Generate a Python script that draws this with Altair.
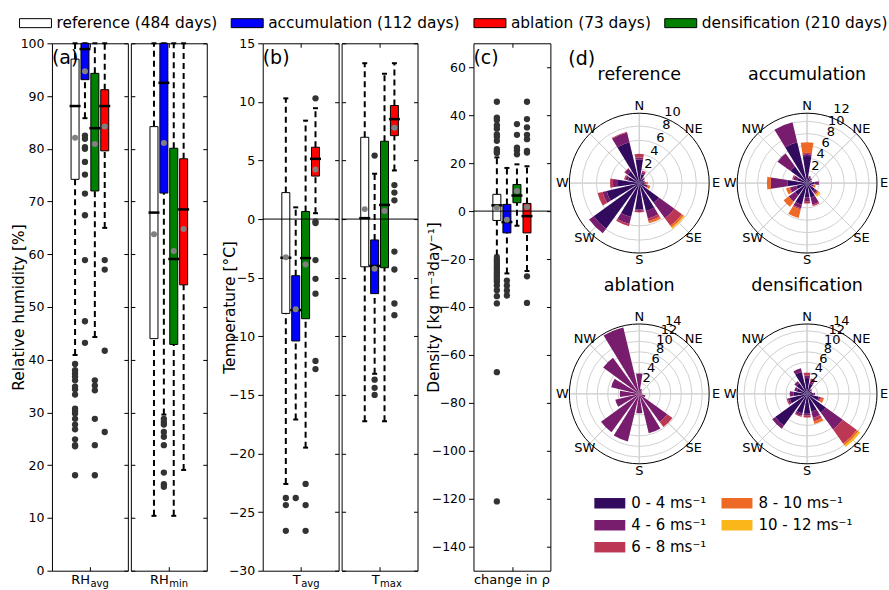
import altair as alt
import numpy as np
import pandas as pd

FONT = "DejaVu Sans"

# ---------------- season categories and box colours ----------------
seasons = ["reference (484 days)", "accumulation (112 days)",
           "ablation (73 days)", "densification (210 days)"]
season_colors = ["#ffffff", "#0000ff", "#ff0000", "#008000"]
# boxes run left to right in this order inside every panel
box_seasons = ["reference (484 days)", "accumulation (112 days)",
               "densification (210 days)", "ablation (73 days)"]
box_pos = [-22.5, -7.5, 7.5, 22.5]

# ---------------- (a) relative humidity [%] ----------------
rhavg_lo = [40.9, 85.8, 44.3, 65.0]
rhavg_q1 = [74.2, 93.1, 72.0, 79.6]
rhavg_med = [88.1, 98.9, 83.9, 88.1]
rhavg_q3 = [97.0, 100.0, 94.3, 91.2]
rhavg_hi = [100.0, 100.0, 100.0, 100.0]
rhavg_mean = [82.1, 94.7, 80.9, 84.2]
rhavg_out = [
    [39.2, 38.0, 37.4, 36.8, 36.1, 34.9, 34.4, 33.4, 30.7, 30.3, 29.8,
     28.8, 27.7, 26.8, 24.9, 23.8, 23.6, 18.1],
    [82.5, 81.9, 80.3, 80.0, 77.5, 75.1, 71.5, 67.4, 58.9, 47.3, 43.2],
    [36.1, 35.1, 34.2, 28.8, 23.8, 18.1],
    [58.9, 57.1, 41.7, 26.3],
]

rhmin_lo = [10.4, 29.6, 10.4, 19.1]
rhmin_q1 = [44.0, 71.6, 42.9, 54.2]
rhmin_med = [67.9, 92.5, 59.1, 68.5]
rhmin_q3 = [84.2, 100.0, 80.1, 78.1]
rhmin_hi = [100.0, 100.0, 100.0, 100.0]
rhmin_mean = [63.8, 81.1, 60.6, 64.8]
rhmin_out = [
    [],
    [28.8, 28.2, 27.7, 26.3, 25.4, 23.8, 18.6, 16.4, 15.9],
    [],
    [],
]

# ---------------- (b) air temperature [deg C] ----------------
tavg_lo = [-22.6, -17.1, -19.5, 0.5]
tavg_q1 = [-8.05, -10.4, -8.5, 3.67]
tavg_med = [-3.3, -7.76, -3.33, 5.14]
tavg_q3 = [2.26, -4.83, 0.65, 6.13]
tavg_hi = [10.3, 1.0, 8.4, 9.46]
tavg_mean = [-3.25, -7.7, -3.87, 4.24]
tavg_out = [
    [-23.8, -24.4, -26.6],
    [-23.8],
    [-22.6, -24.4, -26.6],
    [10.3, -0.2, -0.34, -3.5, -5.1, -6.36, -12.1, -12.8],
]

tmax_lo = [-17.25, -13.2, -17.25, 4.15]
tmax_q1 = [-4.07, -6.36, -4.15, 7.12]
tmax_med = [0.08, -4.0, 1.21, 8.53]
tmax_q3 = [6.98, -1.78, 6.64, 9.69]
tmax_hi = [13.3, 3.87, 12.4, 13.3]
tmax_mean = [0.85, -4.24, 0.68, 7.8]
tmax_out = [
    [],
    [5.42, -13.7, -14.4, -15.0],
    [],
    [2.9, 2.26, 1.6, -2.77, -4.3, -7.2, -8.2],
]

# ---------------- (c) daily change in snow density ----------------
rho_lo = [-18.5, -26.0, -6.1, -25.0]
rho_q1 = [-3.9, -9.1, 3.5, -9.1]
rho_med = [2.4, -4.6, 6.5, -2.1]
rho_q3 = [7.0, 2.8, 11.1, 3.2]
rho_hi = [22.4, 18.0, 19.5, 18.7]
rho_mean = [1.4, -3.6, 8.4, 1.7]
rho_out = [
    [45.6, 39.0, 38.0, 35.8, 34.4, 32.0, 31.0, 29.3, 25.8, 24.9, 24.2,
     -19.5, -20.5, -21.5, -22.5, -23.5, -24.5, -25.5, -26.5, -27.5, -28.5,
     -29.5, -31.0, -33.0, -35.5, -38.5, -67.2, -121.1],
    [-29.0, -31.0, -33.1, -35.2],
    [36.3, 31.8, 26.5, 25.4, 23.7],
    [45.6, 38.4, 34.9, 31.8, 30.0, 25.1, 24.4, -27.2, -38.3],
]

# ---------------- (d) wind roses: frequency [%] per direction and speed ----------------
directions = ["N", "NNE", "NE", "ENE", "E", "ESE", "SE", "SSE",
              "S", "SSW", "SW", "WSW", "W", "WNW", "NW", "NNW"]
dir_angles = [i * 22.5 for i in range(16)]
speed_bins = ["0 - 4 ms⁻¹", "4 - 6 ms⁻¹", "6 - 8 ms⁻¹", "8 - 10 ms⁻¹", "10 - 12 ms⁻¹"]
speed_colors = ["#320a5e", "#781c6d", "#bc3754", "#ed6925", "#fbb61a"]

#          N    NNE  NE   ENE  E    ESE  SE   SSE  S    SSW  SW   WSW  W    WNW  NW   NNW
ref_wind = [
    [3.3, 1.3, 0.7, 0.6, 0.7, 1.0, 3.4, 4.0, 3.7, 4.9, 7.9, 4.7, 3.0, 1.6, 2.0, 5.9],
    [0.3, 0.3, 0.2, 0.2, 0.2, 0.2, 2.7, 1.1, 0.2, 1.0, 0.8, 0.6, 0.7, 0.4, 0.5, 1.4],
    [0.5, 0.2, 0.1, 0.0, 0.1, 0.1, 1.3, 0.4, 0.2, 0.3, 0.0, 0.7, 0.4, 0.2, 0.1, 0.1],
    [0.0, 0.0, 0.0, 0.0, 0.2, 0.3, 0.3, 0.3, 0.0, 0.0, 0.0, 0.0, 0.0, 0.0, 0.0, 0.0],
    [0.0, 0.0, 0.0, 0.0, 0.0, 0.0, 0.2, 0.0, 0.0, 0.0, 0.0, 0.0, 0.0, 0.0, 0.0, 0.0],
]
acc_wind = [
    [4.4, 0.9, 0.7, 0.6, 1.2, 0.8, 1.6, 2.4, 2.3, 3.6, 2.4, 1.8, 3.2, 1.6, 3.3, 6.8],
    [0.3, 0.3, 0.3, 0.2, 0.7, 0.3, 0.4, 1.2, 0.7, 0.6, 1.3, 1.0, 2.7, 0.7, 2.6, 3.3],
    [0.2, 0.0, 0.0, 0.0, 0.0, 0.1, 0.2, 0.2, 0.3, 0.2, 0.0, 0.2, 0.0, 0.2, 0.0, 0.0],
    [1.7, 0.0, 0.0, 0.0, 0.0, 0.2, 0.2, 0.0, 0.0, 1.4, 1.0, 0.5, 0.6, 0.0, 0.0, 0.0],
    [0.0, 0.0, 0.0, 0.0, 0.0, 0.1, 0.3, 0.0, 0.0, 0.0, 0.0, 0.0, 0.0, 0.0, 0.0, 0.0],
]
abl_wind = [
    [0.0] * 16,
    [3.9, 1.0, 0.6, 0.6, 0.4, 1.2, 6.6, 7.7, 3.7, 9.3, 9.0, 4.7, 3.7, 5.5, 8.5, 13.0],
    [0.0, 0.0, 0.0, 0.0, 0.0, 0.0, 1.2, 0.0, 0.0, 0.0, 0.0, 0.0, 0.0, 0.0, 0.0, 0.0],
    [0.0, 0.0, 0.0, 0.0, 0.2, 0.0, 0.0, 0.0, 0.0, 0.0, 0.0, 0.0, 0.0, 0.0, 0.0, 0.0],
    [0.0] * 16,
]
den_wind = [
    [3.0, 2.0, 0.9, 0.8, 1.2, 2.3, 4.4, 3.5, 3.8, 3.8, 7.5, 3.4, 2.6, 2.0, 2.5, 4.3],
    [0.5, 0.4, 0.2, 0.2, 0.3, 0.3, 4.0, 1.2, 0.3, 0.5, 0.7, 0.4, 0.7, 0.5, 0.5, 0.7],
    [0.5, 0.6, 0.1, 0.0, 0.0, 0.2, 3.3, 0.7, 0.4, 0.2, 0.0, 0.2, 0.0, 0.0, 0.0, 0.0],
    [0.0, 0.0, 0.0, 0.0, 0.0, 0.5, 0.4, 0.5, 0.0, 0.0, 0.0, 0.0, 0.0, 0.0, 0.0, 0.0],
    [0.0, 0.0, 0.0, 0.0, 0.0, 0.0, 0.4, 0.0, 0.0, 0.0, 0.0, 0.0, 0.0, 0.0, 0.0, 0.0],
]

# outer circle radius [%] and radial tick labels of each rose
ref_rmax, ref_rticks = 9.8, [2, 4, 6, 8, 10]
acc_rmax, acc_rticks = 11.3, [2, 4, 6, 8, 10, 12]
abl_rmax, abl_rticks = 13.3, [2, 4, 6, 8, 10, 12, 14]
den_rmax, den_rticks = 13.3, [2, 4, 6, 8, 10, 12, 14]

compass = ["N", "NE", "E", "SE", "S", "SW", "W", "NW"]
compass_angles = [0, 45, 90, 135, 180, 225, 270, 315]

# ---------------- shared scales and legends ----------------
PANEL_H = 528
ROSE_R = 70
SECTOR = 18.0

season_scale = alt.Scale(domain=seasons, range=season_colors)
season_legend = alt.Legend(
    title=None, orient="none", legendX=-25, legendY=-28.7, direction="horizontal",
    columns=4, padding=0, columnPadding=11,
    symbolType="M-2,-0.5625H2V0.5625H-2Z", symbolSize=256,
    symbolStrokeColor="black", symbolStrokeWidth=1, symbolOpacity=1,
    labelOffset=12.5, labelFontSize=15.4, labelFont=FONT, labelColor="black",
    labelLimit=400,
)

# legend entries listed so that two columns read top-to-bottom
legend_order = [speed_bins[0], speed_bins[3], speed_bins[1], speed_bins[4], speed_bins[2]]
legend_colors = [speed_colors[0], speed_colors[3], speed_colors[1], speed_colors[4], speed_colors[2]]
speed_scale = alt.Scale(domain=legend_order, range=legend_colors)
speed_legend = alt.Legend(
    title=None, orient="none", legendX=550.5, legendY=452.5, direction="horizontal",
    columns=2, padding=0, columnPadding=14.3, rowPadding=6,
    symbolType="M-2,-0.677H2V0.677H-2Z", symbolSize=240,
    symbolStrokeWidth=0, symbolOpacity=1,
    labelOffset=13.5, labelFontSize=15, labelFont=FONT, labelColor="black",
    labelLimit=300,
)

one = pd.DataFrame({"k": [0]})


def inner_axis(orient, values):
    # tick-only axis pulled inside the frame so its ticks point inwards
    return alt.Axis(orient=orient, values=values, labels=False, title=None,
                    tickSize=4, tickColor="black", tickWidth=1, offset=-4,
                    domain=False, grid=False)


def box_panel(lo, q1, med, q3, hi, mean, outs, ydom, yvals, width,
              ytitle=None, title_x=-33, tag=None, main="", sub="",
              zero=False, anchor=False):
    stats = pd.DataFrame({"pos": box_pos, "season": box_seasons, "lo": lo,
                          "q1": q1, "med": med, "q3": q3, "hi": hi, "mean": mean})
    pts = pd.DataFrame([{"pos": p, "val": v} for p, vs in zip(box_pos, outs) for v in vs],
                       columns=["pos", "val"])
    xsc = alt.Scale(domain=[-50, 50])
    ysc = alt.Scale(domain=ydom, nice=False, zero=False)
    if ytitle:
        left_ax = alt.Axis(orient="left", values=yvals, title=ytitle, titleX=title_x,
                           titleY=PANEL_H / 2, titleAngle=-90, titleBaseline="middle",
                           titleAlign="center", titleFontSize=15.4,
                           titleFontWeight="normal", titleFont=FONT, titleColor="black",
                           tickSize=5, tickColor="black", labelPadding=3,
                           labelFontSize=12.5, labelFont=FONT, labelColor="black",
                           domain=False, grid=False, labelOverlap=False)
    else:
        left_ax = inner_axis("left", yvals)
    right_ax = inner_axis("right", yvals)
    bottom_ax = inner_axis("bottom", [0])
    top_ax = inner_axis("top", [0])

    def X(ax=None):
        return alt.X("pos:Q", scale=xsc, axis=ax)

    def Y(field, ax=None):
        return alt.Y(field, scale=ysc, axis=ax)

    base = alt.Chart(stats)
    dash = dict(color="black", strokeWidth=2, strokeDash=[6, 4])
    layers = [
        base.mark_rule(**dash).encode(x=X(bottom_ax), y=Y("q3:Q", left_ax), y2="hi:Q"),
        base.mark_rule(**dash).encode(x=X(top_ax), y=Y("lo:Q", right_ax), y2="q1:Q"),
        base.mark_tick(orient="horizontal", color="black", size=5, thickness=2,
                       opacity=1).encode(x=X(), y=Y("hi:Q")),
        base.mark_tick(orient="horizontal", color="black", size=5, thickness=2,
                       opacity=1).encode(x=X(), y=Y("lo:Q")),
        base.mark_bar(size=8, stroke="black", strokeWidth=1, orient="vertical",
                      opacity=1).encode(
            x=X(), y=Y("q1:Q"), y2="q3:Q",
            fill=alt.Fill("season:N", scale=season_scale, legend=season_legend)),
        base.mark_tick(orient="horizontal", color="black", size=11, thickness=2.5,
                       opacity=1).encode(x=X(), y=Y("med:Q")),
    ]
    if zero:
        layers.append(alt.Chart(pd.DataFrame({"z": [0.0]})).mark_rule(
            color="black", strokeWidth=1).encode(y=Y("z:Q")))
    layers += [
        base.mark_circle(color="#808080", opacity=1, size=36).encode(x=X(), y=Y("mean:Q")),
        alt.Chart(pts).mark_circle(color="#333333", opacity=1, size=40).encode(
            x=X(), y=Y("val:Q")),
    ]
    if tag:
        layers.append(alt.Chart(one).mark_text(
            align="left", baseline="middle", fontSize=19, font=FONT, color="black").encode(
            x=alt.value(0), y=alt.value(14.5), text=alt.value(tag)))
    # axis label under the panel, with a subscript
    cx = width / 2
    if sub:
        layers.append(alt.Chart(one).mark_text(
            align="right", baseline="alphabetic", fontSize=13, font=FONT, color="black").encode(
            x=alt.value(cx), y=alt.value(PANEL_H + 13.5), text=alt.value(main)))
        layers.append(alt.Chart(one).mark_text(
            align="left", baseline="alphabetic", fontSize=10, font=FONT, color="black").encode(
            x=alt.value(cx + 0.5), y=alt.value(PANEL_H + 16), text=alt.value(sub)))
    else:
        layers.append(alt.Chart(one).mark_text(
            align="center", baseline="alphabetic", fontSize=13, font=FONT, color="black").encode(
            x=alt.value(cx), y=alt.value(PANEL_H + 13.5), text=alt.value(main)))
    if anchor:
        # fixes the top-left corner of the page relative to the first panel
        layers.append(alt.Chart(one).mark_rect(color="white", opacity=1).encode(
            x=alt.value(-51), x2=alt.value(-50), y=alt.value(-43), y2=alt.value(-42)))
    return alt.layer(*layers).resolve_axis(x="independent", y="independent").properties(
        width=width, height=PANEL_H,
        view=alt.ViewBackground(stroke="black", strokeWidth=1))


def rose_layers(title, wind, rmax, rticks, cx, cy, tag=None):
    px = ROSE_R / rmax
    half = SECTOR / 2
    rows = []
    for k, ang in enumerate(dir_angles):
        acc = 0.0
        for b in range(5):
            v = wind[b][k]
            if v > 0:
                rows.append({"t0": ang - half, "t1": ang + half, "r0": acc,
                             "r1": acc + v, "speed": speed_bins[b]})
            acc += v
    bars = pd.DataFrame(rows)
    rings = pd.DataFrame({"t0": 0.0, "t1": 360.0,
                          "r1": [float(t) for t in rticks if t < rmax]})
    outer = pd.DataFrame({"t0": [0.0], "t1": [360.0], "r1": [float(rmax)]})
    spokes = pd.DataFrame({"t0": [float(a) for a in compass_angles],
                           "t1": [float(a) for a in compass_angles], "r1": float(rmax)})
    clabels = pd.DataFrame({"t0": [float(a) for a in compass_angles], "lab": compass,
                            "r1": 77.0 / px})
    rlabels = pd.DataFrame({"t0": 25.0, "lab": [str(t) for t in rticks],
                            "r1": [t + 7.0 / px for t in rticks]})

    th = alt.Scale(domain=[0, 360], range=[0, 2 * np.pi])
    rs = alt.Scale(type="linear", domain=[0, rmax], range=[0, ROSE_R], zero=True, nice=False)
    vx, vy = alt.value(cx), alt.value(cy)

    def T(f):
        return alt.Theta(f, scale=th, stack=None)

    def R(f):
        return alt.Radius(f, scale=rs, stack=None)

    layers = [
        alt.Chart(rings).mark_arc(fillOpacity=0, stroke="#d0d0d0", strokeWidth=1).encode(
            theta=T("t0:Q"), theta2="t1:Q", radius=R("r1:Q"), x=vx, y=vy),
        alt.Chart(spokes).mark_arc(fillOpacity=0, stroke="#d0d0d0", strokeWidth=1).encode(
            theta=T("t0:Q"), theta2="t1:Q", radius=R("r1:Q"), x=vx, y=vy),
        alt.Chart(bars).mark_arc(opacity=1).encode(
            theta=T("t0:Q"), theta2="t1:Q", radius=R("r1:Q"), radius2="r0:Q",
            color=alt.Color("speed:N", scale=speed_scale, legend=speed_legend),
            x=vx, y=vy),
        alt.Chart(outer).mark_arc(fillOpacity=0, stroke="black", strokeWidth=1).encode(
            theta=T("t0:Q"), theta2="t1:Q", radius=R("r1:Q"), x=vx, y=vy),
        alt.Chart(clabels).mark_text(fontSize=13, font=FONT, color="black",
                                     align="center", baseline="middle").encode(
            theta=T("t0:Q"), radius=R("r1:Q"), text="lab:N", x=vx, y=vy),
        alt.Chart(rlabels).mark_text(fontSize=13, font=FONT, color="black",
                                     align="center", baseline="middle").encode(
            theta=T("t0:Q"), radius=R("r1:Q"), text="lab:N", x=vx, y=vy),
        alt.Chart(one).mark_text(fontSize=17.5, font=FONT, color="black",
                                 align="center", baseline="middle").encode(
            x=alt.value(cx), y=alt.value(cy - 108), text=alt.value(title)),
    ]
    if tag:
        layers.append(alt.Chart(one).mark_text(
            fontSize=19, font=FONT, color="black", align="left", baseline="middle").encode(
            x=alt.value(cx - 71), y=alt.value(cy - 124), text=alt.value(tag)))
    return layers


def spacer(w):
    return alt.Chart(one).mark_point(opacity=0).encode(
        x=alt.value(0), y=alt.value(0)).properties(width=w, height=10)


rh_ticks = list(range(0, 101, 10))
t_ticks = list(range(-30, 16, 5))
rho_ticks = list(range(-140, 61, 20))

rh_avg = box_panel(rhavg_lo, rhavg_q1, rhavg_med, rhavg_q3, rhavg_hi, rhavg_mean, rhavg_out,
                   [0, 100], rh_ticks, 76, ytitle="Relative humidity [%]",
                   title_x=-33, tag="(a)", main="RH", sub="avg", anchor=True)
rh_min = box_panel(rhmin_lo, rhmin_q1, rhmin_med, rhmin_q3, rhmin_hi, rhmin_mean, rhmin_out,
                   [0, 100], rh_ticks, 76, main="RH", sub="min")
t_avg = box_panel(tavg_lo, tavg_q1, tavg_med, tavg_q3, tavg_hi, tavg_mean, tavg_out,
                  [-30, 15], t_ticks, 76, ytitle="Temperature [°C]",
                  title_x=-33.5, tag="(b)", main="T", sub="avg", zero=True)
t_max = box_panel(tmax_lo, tmax_q1, tmax_med, tmax_q3, tmax_hi, tmax_mean, tmax_out,
                  [-30, 15], t_ticks, 76, main="T", sub="max", zero=True)
d_rho = box_panel(rho_lo, rho_q1, rho_med, rho_q3, rho_hi, rho_mean, rho_out,
                  [-150, 70], rho_ticks, 77,
                  ytitle="Density [kg m⁻³day⁻¹]", title_x=-40.5, tag="(c)",
                  main="change in ρ", zero=True)

# all four wind roses share one view; each has its own radial scale
rose_view = alt.layer(
    *rose_layers("reference", ref_wind, ref_rmax, ref_rticks, 70, 140, tag="(d)"),
    *rose_layers("accumulation", acc_wind, acc_rmax, acc_rticks, 238, 140),
    *rose_layers("ablation", abl_wind, abl_rmax, abl_rticks, 70, 351),
    *rose_layers("densification", den_wind, den_rmax, den_rticks, 238, 351),
).resolve_scale(theta="independent", radius="independent").properties(width=308, height=421)

chart = alt.hconcat(
    rh_avg, spacer(3), rh_min, spacer(56), t_avg, spacer(3), t_max, spacer(56),
    d_rho, spacer(19), rose_view, spacing=0, bounds="flush",
).properties(
    padding={"left": 0, "top": -1, "right": 0, "bottom": 0}, background="white"
).configure(font=FONT).configure_view(strokeWidth=0)

chart.save("out.html", embed_options={"renderer": "svg", "actions": False})
